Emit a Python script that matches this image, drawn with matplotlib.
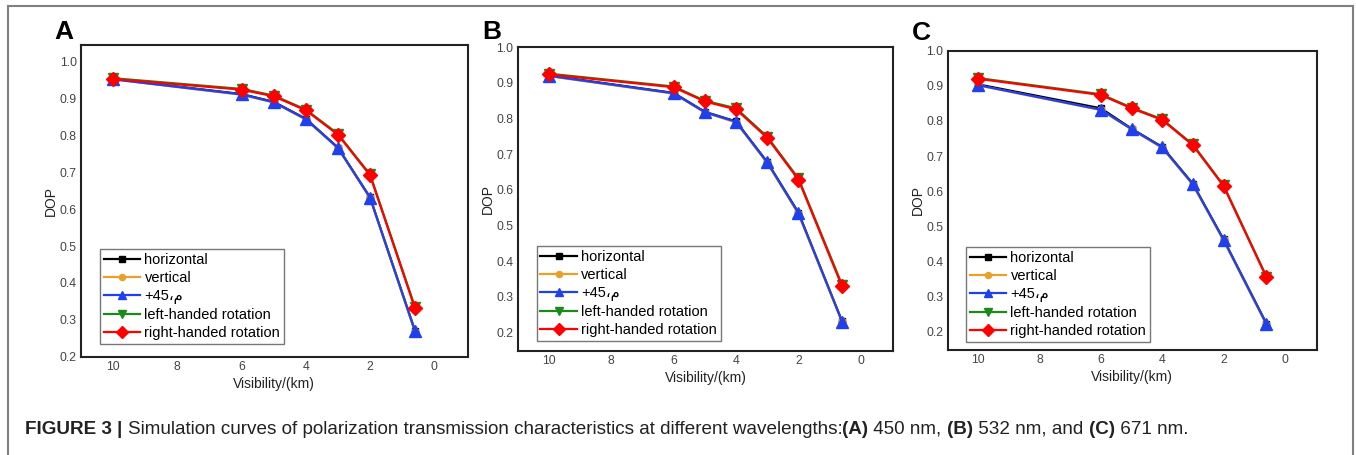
import numpy as np
import matplotlib as mpl
mpl.use('Agg')
import matplotlib.pyplot as pl
from matplotlib.lines import Line2D

pl.rcParams['font.family'] = ['Liberation Sans', 'DejaVu Sans']

# visibility (km)
vis = [10, 6, 5, 4, 3, 2, 0.6]

# DOP values
# A: 450 nm
A_hor = [0.953, 0.912, 0.891, 0.845, 0.767, 0.632, 0.270]
A_ver = [0.952, 0.910, 0.889, 0.843, 0.765, 0.630, 0.268]
A_p45 = [0.952, 0.911, 0.890, 0.844, 0.766, 0.631, 0.269]
A_lhr = [0.955, 0.926, 0.908, 0.870, 0.804, 0.694, 0.334]
A_rhr = [0.953, 0.924, 0.906, 0.868, 0.802, 0.692, 0.331]
# B: 532 nm
B_hor = [0.921, 0.872, 0.819, 0.792, 0.678, 0.536, 0.231]
B_ver = [0.919, 0.870, 0.817, 0.789, 0.675, 0.532, 0.229]
B_p45 = [0.920, 0.871, 0.818, 0.791, 0.677, 0.535, 0.230]
B_lhr = [0.926, 0.890, 0.850, 0.829, 0.749, 0.632, 0.333]
B_rhr = [0.924, 0.888, 0.848, 0.826, 0.746, 0.629, 0.329]
# C: 671 nm
C_hor = [0.904, 0.836, 0.778, 0.726, 0.621, 0.463, 0.223]
C_ver = [0.901, 0.831, 0.776, 0.723, 0.618, 0.460, 0.220]
C_p45 = [0.902, 0.832, 0.777, 0.725, 0.620, 0.462, 0.222]
C_lhr = [0.922, 0.876, 0.838, 0.805, 0.733, 0.617, 0.357]
C_rhr = [0.920, 0.874, 0.836, 0.803, 0.731, 0.615, 0.355]

yt = [0.2, 0.3, 0.4, 0.5, 0.6, 0.7, 0.8, 0.9, 1.0]
xticks = [10, 8, 6, 4, 2, 0]
panels = [
    ('A', [A_hor, A_ver, A_p45, A_lhr, A_rhr], (0.2, 1.045)),
    ('B', [B_hor, B_ver, B_p45, B_lhr, B_rhr], (0.148, 1.0)),
    ('C', [C_hor, C_ver, C_p45, C_lhr, C_rhr], (0.148, 1.0)),
]
names = ['horizontal', 'vertical', '+45\u060c\u0645', 'left-handed rotation', 'right-handed rotation']
cols = ['#000000', '#E8A02A', '#2040F0', '#1A8A1A', '#FF0000']
marks = ['s', 'o', '^', 'v', 'D']
msz = [5, 5.5, 8, 6.5, 7.2]

W, H = 1356., 455.
f = pl.figure(figsize=(W/100, H/100), dpi=100)

# axes boxes in pixels: left, top, right, bottom
boxes = [(81, 45, 467.7, 356.7), (517.7, 47.3, 893.3, 351), (947.7, 50.7, 1316.7, 350)]
legpos = [(100, 249), (536.7, 246), (966, 247)]
letpos = [(64, 32), (492, 32), (921, 33)]

for pI, (lab, series, ylim) in enumerate(panels):
    l, t, r, b = boxes[pI]
    ax = f.add_axes([l/W, 1-b/H, (r-l)/W, (b-t)/H])
    hs = []
    for sI, s in enumerate(series):
        hs.append(ax.plot(vis, s, color=cols[sI], marker=marks[sI], ms=msz[sI], lw=1.6,
                          mec=cols[sI], mfc=cols[sI])[0])
    ax.set_xlim(11, -1.04)
    ax.set_ylim(*ylim)
    ax.set_xticks(xticks)
    ax.set_xticklabels(['%d' % x for x in xticks])
    ax.set_yticks(yt)
    ax.set_yticklabels(['%.1f' % y for y in yt])
    ax.tick_params(length=0, labelsize=8.8, labelcolor='#444444', pad=3)
    for sp in ax.spines.values():
        sp.set_linewidth(1.5)
        sp.set_color('#222222')
    ax.set_xlabel('Visibility/(km)', fontsize=10, color='#222222', labelpad=3)
    ax.set_ylabel('DOP', fontsize=10, color='#222222', labelpad=1)
    leg = ax.legend(hs, names, loc='upper left',
                    bbox_to_anchor=(legpos[pI][0]/W, 1-legpos[pI][1]/H), bbox_transform=f.transFigure,
                    borderaxespad=0, fontsize=10.5, labelspacing=0.28, handlelength=2.5,
                    handletextpad=0.3, borderpad=0.25, fancybox=False, framealpha=1,
                    edgecolor='#777777', markerscale=0.8)
    leg.get_frame().set_linewidth(1.0)
    f.text(letpos[pI][0]/W, 1-letpos[pI][1]/H, lab, fontsize=19, fontweight='bold',
           ha='center', va='center')

# outer frame
fc = '#808080'
f.add_artist(Line2D([8/W, 8/W], [0, 1-6/H], color=fc, lw=1.5, transform=f.transFigure))
f.add_artist(Line2D([8/W, 1353/W], [1-6/H, 1-6/H], color=fc, lw=1.5, transform=f.transFigure))
f.add_artist(Line2D([1353/W, 1353/W], [0, 1-6/H], color=fc, lw=1.5, transform=f.transFigure))

# caption, pieces chained one after another
parts = [('FIGURE 3 | ', 'bold'),
         ('Simulation curves of polarization transmission characteristics at different wavelengths:', 'normal'),
         ('(A)', 'bold'), (' 450 nm, ', 'normal'), ('(B)', 'bold'), (' 532 nm, and ', 'normal'),
         ('(C)', 'bold'), (' 671 nm.', 'normal')]
capfs = 13.6
prev = f.text(25/W, 1-438/H, parts[0][0], fontsize=capfs, fontweight=parts[0][1],
              va='bottom', color='#222222')
for txt, wt in parts[1:]:
    prev = ax.annotate(txt, xy=(1, 0), xycoords=prev, va='bottom', ha='left',
                       fontsize=capfs, fontweight=wt, color='#222222', annotation_clip=False)

f.savefig('out.png')
